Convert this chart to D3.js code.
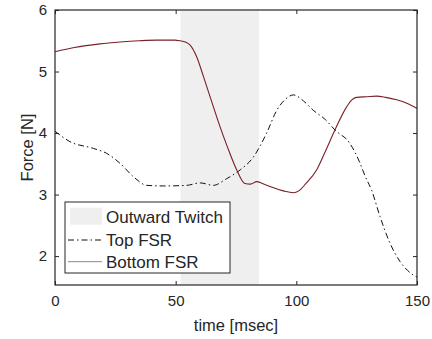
<!DOCTYPE html>
<html>
<head>
<meta charset="utf-8">
<script src="https://cdn.jsdelivr.net/npm/d3@7"></script>
<style>
  body { margin: 0; background: #fff; }
  text { font-family: "Liberation Sans", Arial, sans-serif; fill: #262626; }
</style>
</head>
<body>
<div id="chart"></div>
<script>
// data
const xTicks = [0, 50, 100, 150];
const yTicks = [2, 3, 4, 5, 6];
const twitchSpan = [52, 84.5];

const topT = [0, 6.2, 15.9, 21.4, 26.9, 32.5, 38, 44.9, 54.6, 60.1, 65.6, 71.2, 76.7, 82.2, 87.7, 91.9, 95.5, 98.8, 103, 107, 112, 116, 122.2, 126.4, 128.5, 131.2, 134.7, 138.8, 143, 146, 148.5, 150];
const topF = [4.03, 3.86, 3.75, 3.67, 3.51, 3.29, 3.15, 3.14, 3.15, 3.19, 3.15, 3.26, 3.40, 3.61, 4.00, 4.37, 4.55, 4.62, 4.52, 4.37, 4.22, 4.05, 3.83, 3.51, 3.30, 3.07, 2.64, 2.21, 1.91, 1.77, 1.69, 1.66];

const botT = [0, 8, 18.6, 27, 35, 42, 49.7, 51.8, 54, 56, 58.7, 61.5, 65.6, 68.4, 71.2, 75.3, 78.7, 81, 83.6, 86, 89.1, 94.6, 98.8, 101, 104, 108.4, 112, 116, 120.9, 123, 125, 129, 133.3, 137, 141.6, 146, 150];
const botF = [5.32, 5.39, 5.45, 5.48, 5.50, 5.51, 5.51, 5.50, 5.48, 5.43, 5.24, 4.92, 4.43, 4.10, 3.80, 3.40, 3.18, 3.17, 3.21, 3.18, 3.13, 3.06, 3.03, 3.06, 3.18, 3.40, 3.70, 4.05, 4.43, 4.54, 4.58, 4.59, 4.60, 4.58, 4.54, 4.48, 4.40];

const W = 432, H = 339;
const margin = {top: 10, right: 15, bottom: 54, left: 55};
const w = W - margin.left - margin.right,
      h = H - margin.top - margin.bottom;

const svg = d3.select("#chart").append("svg")
    .attr("width", W).attr("height", H)
  .append("g")
    .attr("transform", "translate(" + margin.left + "," + margin.top + ")");

const x = d3.scaleLinear().domain([0, 150]).range([0, w]);
const y = d3.scaleLinear().domain([1.53, 6]).range([h, 0]);

// shaded twitch region
svg.append("rect")
    .attr("x", x(twitchSpan[0]))
    .attr("y", 0)
    .attr("width", x(twitchSpan[1]) - x(twitchSpan[0]))
    .attr("height", h)
    .attr("fill", "#efefef");

const line = d3.line().curve(d3.curveMonotoneX);

svg.append("path")
    .attr("d", line(topT.map((t, i) => [x(t), y(topF[i])])))
    .attr("fill", "none")
    .attr("stroke", "#111")
    .attr("stroke-width", 1)
    .attr("stroke-dasharray", "6,3,1.5,3");

svg.append("path")
    .attr("d", line(botT.map((t, i) => [x(t), y(botF[i])])))
    .attr("fill", "none")
    .attr("stroke", "#7a1f28")
    .attr("stroke-width", 1.1);

// axes, matlab style (ticks inside, box on)
const tl = 4;
function styleAxis(g) {
  g.select(".domain").remove();
  g.selectAll(".tick line").attr("stroke", "#262626");
  g.selectAll(".tick text").style("font-size", "15px").attr("fill", "#262626");
}
svg.append("g").attr("transform", "translate(0," + h + ")")
    .call(d3.axisBottom(x).tickValues(xTicks).tickSizeInner(-tl).tickPadding(10))
    .call(styleAxis);
svg.append("g")
    .call(d3.axisTop(x).tickValues(xTicks).tickSizeInner(-tl).tickFormat(""))
    .call(styleAxis);
svg.append("g")
    .call(d3.axisLeft(y).tickValues(yTicks).tickSizeInner(-tl).tickPadding(8).tickFormat(d3.format("d")))
    .call(styleAxis);
svg.append("g").attr("transform", "translate(" + w + ",0)")
    .call(d3.axisRight(y).tickValues(yTicks).tickSizeInner(-tl).tickFormat(""))
    .call(styleAxis);

svg.append("rect")
    .attr("width", w).attr("height", h)
    .attr("fill", "none")
    .attr("stroke", "#262626")
    .attr("stroke-width", 1.2);

// axis labels
svg.append("text")
    .attr("x", w / 2)
    .attr("y", h + 46)
    .attr("text-anchor", "middle")
    .style("font-size", "16.5px")
    .text("time [msec]");

svg.append("text")
    .attr("text-anchor", "middle")
    .style("font-size", "16.5px")
    .attr("transform", "translate(-22," + (h / 2) + ") rotate(-90)")
    .text("Force [N]");

// legend
const lg = svg.append("g").attr("transform", "translate(" + (65 - margin.left) + "," + (202 - margin.top) + ")");
lg.append("rect")
    .attr("width", 165).attr("height", 71)
    .attr("fill", "#fff")
    .attr("stroke", "#262626")
    .attr("stroke-width", 1);
const rows = [
  {label: "Outward Twitch", cy: 14.7},
  {label: "Top FSR", cy: 38},
  {label: "Bottom FSR", cy: 59.7}
];
lg.append("rect")
    .attr("x", 5).attr("y", rows[0].cy - 9)
    .attr("width", 32).attr("height", 17)
    .attr("fill", "#efefef");
lg.append("line")
    .attr("x1", 3).attr("x2", 37)
    .attr("y1", rows[1].cy).attr("y2", rows[1].cy)
    .attr("stroke", "#111")
    .attr("stroke-dasharray", "6,3,1.5,3");
lg.append("line")
    .attr("x1", 3).attr("x2", 37)
    .attr("y1", rows[2].cy).attr("y2", rows[2].cy)
    .attr("stroke", "#8a8a8a");
lg.selectAll("text.lab").data(rows).enter().append("text")
    .attr("class", "lab")
    .attr("x", 41)
    .attr("y", d => d.cy)
    .attr("dy", "0.36em")
    .style("font-size", "17px")
    .text(d => d.label);
</script>
</body>
</html>
